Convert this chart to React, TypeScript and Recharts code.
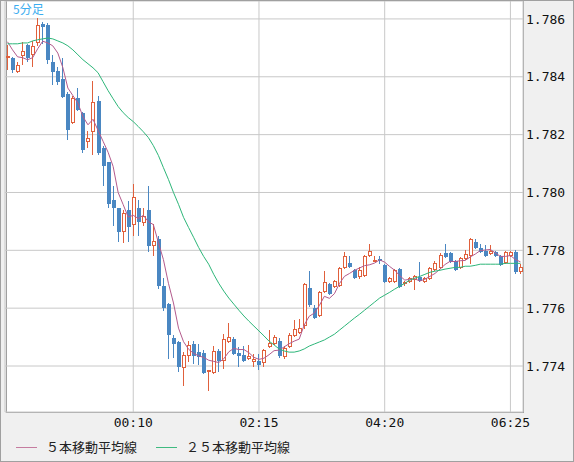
import { ComposedChart, Bar, Line, XAxis, YAxis, CartesianGrid } from 'recharts';

// 5-minute candles, 22:05 .. 06:35
const startMinute = 22 * 60 + 5;
const xTicks = ['00:10', '02:15', '04:20', '06:25'];
const yTicks = [1.774, 1.776, 1.778, 1.78, 1.782, 1.784, 1.786];

const opens = [
  1.78466, 1.78466, 1.78417, 1.78472, 1.7851, 1.78476, 1.78517, 1.78583, 1.78579, 1.78452,
  1.78421, 1.78393, 1.78341, 1.78241, 1.78328, 1.78276, 1.78176, 1.7821, 1.78317, 1.78155,
  1.78104, 1.77973, 1.77945, 1.77862, 1.77938, 1.77886, 1.77945, 1.77893, 1.77941, 1.77814,
  1.77838, 1.77676, 1.77614, 1.77497, 1.77483, 1.77393, 1.77435, 1.77476, 1.77448, 1.77445,
  1.77378, 1.77376, 1.77452, 1.77417, 1.77483, 1.77493, 1.77445, 1.77438, 1.77424, 1.77414,
  1.77417, 1.7741, 1.77466, 1.77476, 1.77486, 1.77431, 1.77466, 1.77504, 1.77514, 1.77538,
  1.77669, 1.776, 1.77573, 1.77655, 1.77683, 1.77673, 1.77676, 1.77738, 1.77755, 1.77731,
  1.77707, 1.7771, 1.77779, 1.77764, 1.77769, 1.77748, 1.7769, 1.7769, 1.77735, 1.77683,
  1.7769, 1.77697, 1.77707, 1.7769, 1.777, 1.77731, 1.77738, 1.7779, 1.7779, 1.77762,
  1.77738, 1.77769, 1.77779, 1.77828, 1.77807, 1.77797, 1.77786, 1.77793, 1.77779, 1.77755,
  1.77779, 1.77793, 1.77724,
];

const highs = [
  1.7851, 1.78469, 1.78452, 1.78521, 1.78514, 1.78524, 1.78603, 1.7859, 1.78586, 1.78476,
  1.78434, 1.78466, 1.78348, 1.78335, 1.78362, 1.78279, 1.78214, 1.78386, 1.78335, 1.78162,
  1.78107, 1.78021, 1.77948, 1.77941, 1.77969, 1.78028, 1.77973, 1.77945, 1.78021, 1.7789,
  1.77848, 1.77704, 1.77617, 1.77507, 1.77486, 1.77448, 1.77486, 1.77486, 1.77476, 1.77455,
  1.77386, 1.77469, 1.77459, 1.7751, 1.77548, 1.775, 1.77466, 1.77469, 1.77473, 1.77442,
  1.77442, 1.77459, 1.77524, 1.77507, 1.77497, 1.77469, 1.77514, 1.77559, 1.77562, 1.77686,
  1.77728, 1.7761, 1.77659, 1.77728, 1.77686, 1.77697, 1.77741, 1.77793, 1.77779, 1.77735,
  1.77741, 1.77783, 1.77821, 1.77779, 1.77779, 1.77752, 1.77707, 1.77735, 1.77738, 1.77693,
  1.77707, 1.77714, 1.77759, 1.77707, 1.77741, 1.77762, 1.7779, 1.77821, 1.77793, 1.77766,
  1.77776, 1.778, 1.77841, 1.77838, 1.77821, 1.77817, 1.77817, 1.77797, 1.77783, 1.77797,
  1.77797, 1.778, 1.77752,
];

const lows = [
  1.78424, 1.78414, 1.78414, 1.78441, 1.78452, 1.78434, 1.78507, 1.78514, 1.78445, 1.78372,
  1.78372, 1.78328, 1.78183, 1.78238, 1.78283, 1.78138, 1.78155, 1.78128, 1.78131, 1.78024,
  1.77948, 1.77883, 1.77828, 1.77824, 1.77828, 1.77848, 1.77848, 1.77883, 1.77793, 1.77779,
  1.77666, 1.7759, 1.77424, 1.77428, 1.77379, 1.77331, 1.77414, 1.77407, 1.77404, 1.77373,
  1.77314, 1.77373, 1.77379, 1.7739, 1.77479, 1.77438, 1.77397, 1.77414, 1.77421, 1.77397,
  1.77386, 1.77397, 1.77462, 1.77473, 1.77428, 1.77424, 1.77462, 1.775, 1.7751, 1.77528,
  1.77604, 1.77562, 1.77569, 1.77652, 1.77645, 1.77669, 1.77673, 1.77735, 1.77738, 1.777,
  1.777, 1.77707, 1.77776, 1.77762, 1.77752, 1.77686, 1.77686, 1.77686, 1.77669, 1.77676,
  1.77686, 1.77662, 1.7769, 1.77686, 1.77697, 1.77728, 1.77735, 1.77773, 1.77755, 1.77728,
  1.77735, 1.77766, 1.77752, 1.77804, 1.7779, 1.77776, 1.77783, 1.77776, 1.77745, 1.77752,
  1.77776, 1.77717, 1.77717,
];

const closes = [
  1.78472, 1.78424, 1.78441, 1.7849, 1.78466, 1.78507, 1.78579, 1.78572, 1.78459, 1.78417,
  1.78383, 1.78331, 1.78217, 1.78328, 1.78286, 1.78148, 1.7819, 1.78314, 1.78138, 1.78093,
  1.77959, 1.77948, 1.77862, 1.77928, 1.77879, 1.77986, 1.77897, 1.77917, 1.77814, 1.77831,
  1.77676, 1.776, 1.77507, 1.77476, 1.77397, 1.77438, 1.77473, 1.77435, 1.77431, 1.77376,
  1.77385, 1.77452, 1.77417, 1.77493, 1.775, 1.77442, 1.77435, 1.77417, 1.77435, 1.77424,
  1.77404, 1.77455, 1.77479, 1.775, 1.77435, 1.77462, 1.77507, 1.77528, 1.77531, 1.77683,
  1.7761, 1.77566, 1.77655, 1.7769, 1.77648, 1.77693, 1.77738, 1.77779, 1.77741, 1.77704,
  1.77731, 1.77779, 1.77797, 1.77767, 1.77762, 1.7769, 1.77704, 1.77731, 1.77673, 1.7769,
  1.77704, 1.7771, 1.77693, 1.77704, 1.77738, 1.77755, 1.77783, 1.77776, 1.77759, 1.77731,
  1.77773, 1.77786, 1.77838, 1.77807, 1.77793, 1.77779, 1.77797, 1.77779, 1.77748, 1.77793,
  1.77793, 1.77724, 1.77741,
];

// 5本移動平均線
const ma5 = [
  1.78521, 1.78493, 1.78469, 1.78466, 1.78459, 1.78466, 1.78497, 1.78523, 1.78517, 1.78507,
  1.78482, 1.78432, 1.78361, 1.78335, 1.78309, 1.78262, 1.78234, 1.78253, 1.78215, 1.78177,
  1.78139, 1.7809, 1.78, 1.77958, 1.77915, 1.77921, 1.7791, 1.77921, 1.77899, 1.77889,
  1.77827, 1.77768, 1.77686, 1.77618, 1.77531, 1.77484, 1.77458, 1.77444, 1.77435, 1.7743,
  1.7742, 1.77416, 1.77412, 1.77425, 1.77449, 1.77461, 1.77457, 1.77457, 1.77446, 1.7743,
  1.77423, 1.77427, 1.77439, 1.77453, 1.77455, 1.77466, 1.77477, 1.77486, 1.77493, 1.77542,
  1.77572, 1.77583, 1.77609, 1.77641, 1.77634, 1.7765, 1.77685, 1.7771, 1.7772, 1.77731,
  1.77739, 1.77747, 1.7775, 1.77756, 1.77767, 1.77759, 1.77744, 1.77731, 1.77712, 1.77697,
  1.777, 1.77701, 1.77694, 1.777, 1.7771, 1.7772, 1.77735, 1.77751, 1.77762, 1.77761,
  1.77764, 1.77765, 1.77777, 1.77787, 1.77799, 1.77801, 1.77803, 1.77791, 1.77779, 1.77779,
  1.77782, 1.77768, 1.7776,
];

// 25本移動平均線
const ma25 = [
  1.78514, 1.78514, 1.78514, 1.78517, 1.78517, 1.78524, 1.78528, 1.78531, 1.78534, 1.78531,
  1.78524, 1.78517, 1.78507, 1.78493, 1.78476, 1.78459, 1.78445, 1.78431, 1.78414, 1.78383,
  1.78352, 1.78324, 1.78297, 1.78276, 1.78259, 1.78245, 1.78228, 1.7821, 1.7819, 1.78162,
  1.78128, 1.78086, 1.78045, 1.78, 1.77959, 1.77914, 1.77879, 1.77845, 1.7781, 1.77779,
  1.77752, 1.77717, 1.77686, 1.77659, 1.77635, 1.77614, 1.77593, 1.77573, 1.77555, 1.77538,
  1.77521, 1.77504, 1.77486, 1.77473, 1.77459, 1.77452, 1.77448, 1.77448, 1.77452, 1.77459,
  1.77469, 1.77476, 1.77483, 1.7749, 1.775, 1.7751, 1.77524, 1.77538, 1.77552, 1.77566,
  1.77579, 1.77593, 1.77607, 1.77621, 1.77635, 1.77645, 1.77655, 1.77666, 1.77676, 1.77686,
  1.77697, 1.77704, 1.7771, 1.77717, 1.77724, 1.77728, 1.77731, 1.77735, 1.77738, 1.77741,
  1.77741, 1.77745, 1.77745, 1.77748, 1.77752, 1.77752, 1.77752, 1.77752, 1.77752, 1.77755,
  1.77755, 1.77755, 1.77755,
];

const pad = (n: number) => String(n).padStart(2, '0');
const times = opens.map((_, i) => {
  const m = (startMinute + i * 5) % 1440;
  return `${pad(Math.floor(m / 60))}:${pad(m % 60)}`;
});

const data = times.map((t, i) => ({
  t,
  open: opens[i],
  high: highs[i],
  low: lows[i],
  close: closes[i],
  ma5: ma5[i],
  ma25: ma25[i],
}));

const UP = '#e0603c';
const DOWN = '#4a87c2';
const MA5_COLOR = '#b35b8d';
const MA25_COLOR = '#2db679';
const axisFont = { fontFamily: 'DejaVu Sans Mono', fontSize: 13, fill: '#111' };

function Candle(props: any) {
  const { x, y, width, height, payload } = props;
  if (!payload || height == null) return null;
  const { open, close, high, low } = payload;
  const top = Math.min(y, y + height);
  const h = Math.abs(height);
  const k = h / (high - low);
  const yOf = (v: number) => top + (high - v) * k;
  const up = close >= open;
  const color = up ? UP : DOWN;
  const left = Math.round(x + width / 2 - 2);
  const bTop = Math.round(yOf(Math.max(open, close)));
  const bBot = Math.round(yOf(Math.min(open, close)));
  const bh = Math.max(1, bBot - bTop);
  return (
    <g shapeRendering="crispEdges">
      <line x1={left + 1.5} x2={left + 1.5} y1={Math.round(top)} y2={Math.round(top + h)} stroke={color} />
      {up ? (
        <rect x={left + 0.5} y={bTop + 0.5} width={3} height={Math.max(1, bh - 1)} fill="#fff" stroke={color} />
      ) : (
        <rect x={left} y={bTop} width={4} height={bh} fill={color} />
      )}
    </g>
  );
}

export default function App() {
  return (
    <div style={{ position: 'relative', width: 574, height: 462, background: '#f0f0f0', overflow: 'hidden' }}>
      <style>{'body{margin:0}'}</style>
      <div
        style={{
          position: 'absolute', left: 6, top: 0, width: 518, height: 413,
          boxSizing: 'border-box', border: '1px solid #a0a0a0', background: '#fff',
        }}
      />
      <div style={{ position: 'absolute', left: 0, top: 0 }}>
        <ComposedChart width={574} height={462} data={data} margin={{ top: 1, right: 0, bottom: 0, left: 5 }}>
          <CartesianGrid stroke="#c8c8c8" />
          <XAxis
            dataKey="t"
            ticks={xTicks}
            interval={0}
            axisLine={false}
            tickLine={false}
            tickSize={0}
            tickMargin={6}
            height={50}
            tick={axisFont}
          />
          <YAxis
            orientation="right"
            domain={[1.77241, 1.78662]}
            allowDataOverflow
            ticks={yTicks}
            tickFormatter={(v: number) => v.toFixed(3)}
            axisLine={false}
            tickLine={false}
            tickSize={0}
            tickMargin={3}
            width={51}
            tick={{ ...axisFont, textAnchor: 'start' }}
          />
          <Bar dataKey={(d: any) => [d.low, d.high]} barSize={4} shape={<Candle />} isAnimationActive={false} />
          <Line dataKey="ma5" stroke={MA5_COLOR} strokeWidth={1} dot={false} activeDot={false} isAnimationActive={false} />
          <Line dataKey="ma25" stroke={MA25_COLOR} strokeWidth={1} dot={false} activeDot={false} isAnimationActive={false} />
        </ComposedChart>
      </div>
      <div
        style={{
          position: 'absolute', left: 13, top: 1, fontFamily: '"Noto Sans CJK JP", sans-serif',
          fontSize: 12, color: '#3badf0', lineHeight: '16px',
        }}
      >
        5分足
      </div>
      <div
        style={{
          position: 'absolute', left: 16, top: 438, display: 'flex', alignItems: 'center',
          fontFamily: '"Noto Sans CJK JP", sans-serif', fontSize: 13, color: '#222', lineHeight: '18px',
        }}
      >
        <span style={{ width: 21, height: 1, background: '#c57c9f', marginRight: 9 }} />
        <span style={{ marginRight: 19 }}>５本移動平均線</span>
        <span style={{ width: 21, height: 1, background: '#3fba80', marginRight: 9 }} />
        <span>２５本移動平均線</span>
      </div>
      <div
        style={{
          position: 'absolute', inset: 0, boxSizing: 'border-box',
          border: '1px solid #a0a0a0', pointerEvents: 'none',
        }}
      />
    </div>
  );
}
